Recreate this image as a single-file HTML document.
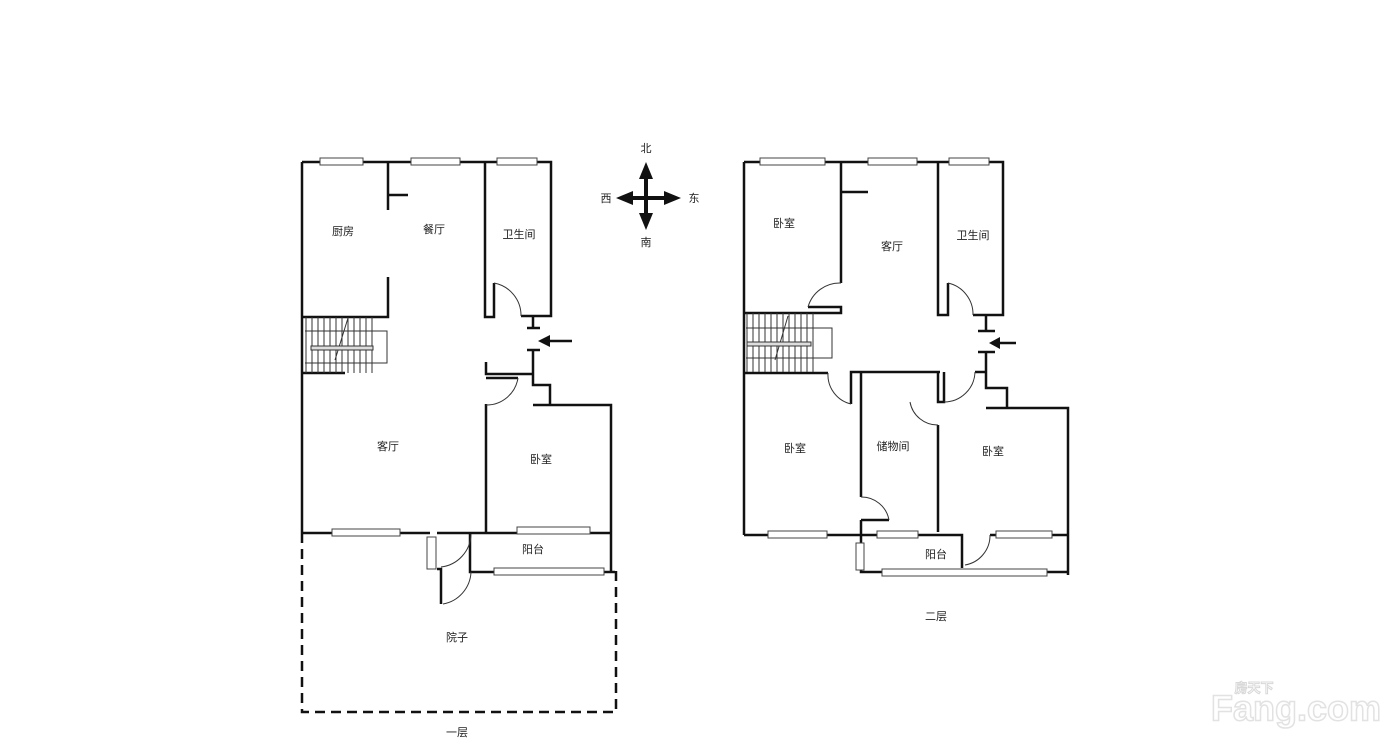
<!DOCTYPE html>
<html><head><meta charset="utf-8"><style>
html,body{margin:0;padding:0;background:#fff;}
svg{display:block}
text{font-family:"Liberation Sans","Noto Sans CJK SC",sans-serif;font-size:11px;fill:#222;text-anchor:middle;dominant-baseline:middle}
.w{stroke:#111;stroke-width:2.5;fill:none}
.t{stroke:#333;stroke-width:1;fill:none}
.win{fill:#fff;stroke:#444;stroke-width:1}
</style></head><body>
<svg width="1400" height="750" viewBox="0 0 1400 750">
<!-- ================= LEFT PLAN ================= -->
<g class="w">
<path d="M302,162 H551 V316 H521"/>
<path d="M302,162 V533"/>
<path d="M388,162 V210 M388,195 H408 M388,277 V317 H302"/>
<path d="M485,162 V317 H494 V283"/>
<path d="M302,373 H345"/>
<path d="M533,316 V328 M527,328 H540 M527,350 H540 M533,350 V385 H550 V405 M533,405 H611 V572"/>
<path d="M486,362 V374 H533 M486,378 H518"/>
<path d="M486,404 V532"/>
<path d="M302,533 H430 M437,533 H611"/>
<path d="M437,569 H441 V604 M470,533 V572 H615"/>
</g>
<g class="t">
<path d="M494,283 A33,33 0 0 1 521,316"/>
<path d="M518,378 A32,32 0 0 1 486,405"/>
<path d="M441,567 A34,34 0 0 0 471,534"/>
<path d="M443,604 A34,34 0 0 0 471,572"/>
</g>
<line x1="572" y1="341" x2="548" y2="341" stroke="#111" stroke-width="2.5"/>
<polygon points="538,341 550,335 550,347" fill="#111"/>
<!-- stairs left -->
<g class="t">
<path d="M306,317 V373 M312,317 V373 M318,317 V373 M324,317 V373 M330,317 V373 M336,317 V373 M342,317 V373 M348,317 V373 M354,317 V373 M360,317 V373 M366,317 V373 M372,317 V373"/>
<path d="M305,331 H387 V363 H305"/>
<path d="M335,360 L348,318"/>
</g>
<rect x="311" y="346" width="62" height="4" fill="#ddd" stroke="#333" stroke-width="1"/>
<!-- windows left -->
<rect class="win" x="320" y="158" width="43" height="7"/>
<rect class="win" x="411" y="158" width="49" height="7"/>
<rect class="win" x="497" y="158" width="40" height="7"/>
<rect class="win" x="332" y="529" width="68" height="7"/>
<rect class="win" x="517" y="527" width="73" height="7"/>
<rect class="win" x="494" y="568" width="110" height="7"/>
<rect class="win" x="427" y="537" width="9" height="32"/>
<!-- courtyard dashed -->
<path d="M302,533 V712 H616 V570" stroke="#111" stroke-width="2.5" fill="none" stroke-dasharray="10,6"/>
<text x="343" y="232">厨房</text>
<text x="434" y="230">餐厅</text>
<text x="519" y="235">卫生间</text>
<text x="388" y="447">客厅</text>
<text x="541" y="460">卧室</text>
<text x="533" y="550">阳台</text>
<text x="457" y="638">院子</text>
<text x="457" y="733">一层</text>
<!-- ================= COMPASS ================= -->
<g stroke="#111" stroke-width="4">
<line x1="646" y1="176" x2="646" y2="216"/>
<line x1="630" y1="198" x2="667" y2="198"/>
</g>
<g fill="#111">
<polygon points="646,162 639,179 653,179"/>
<polygon points="646,230 639,213 653,213"/>
<polygon points="616,198 633,191 633,205"/>
<polygon points="681,198 664,191 664,205"/>
</g>
<text x="646" y="149">北</text>
<text x="606" y="199">西</text>
<text x="694" y="199">东</text>
<text x="646" y="243">南</text>
<!-- ================= RIGHT PLAN ================= -->
<g class="w">
<path d="M744,162 H1003 V315 H973"/>
<path d="M744,162 V535"/>
<path d="M841,162 V283 M841,192 H868 M808,307 H841 V313 H744"/>
<path d="M938,162 V315 H948 V283"/>
<path d="M744,373 H828"/>
<path d="M986,315 V331 M978,331 H995 M978,352 H995 M986,352 V388 H1007 V408 M986,408 H1068 V575"/>
<path d="M851,404 V372 H940 M861,372 V497 M938,372 V402 H944 V372"/>
<path d="M975,372 H986"/>
<path d="M938,425 V532 M861,520 H889 M861,520 V572 H1068"/>
<path d="M744,535 H962 V568 M990,535 H1068"/>
</g>
<g class="t">
<path d="M841,283 A33,33 0 0 0 808,307"/>
<path d="M948,283 A32,32 0 0 1 973,315"/>
<path d="M828,373 A30,30 0 0 0 851,404"/>
<path d="M944,402 A31,31 0 0 0 975,372"/>
<path d="M910,402 A28,28 0 0 0 938,425"/>
<path d="M861,497 A28,28 0 0 1 889,520"/>
<path d="M965,565 A30,30 0 0 0 990,535"/>
</g>
<line x1="1016" y1="343" x2="998" y2="343" stroke="#111" stroke-width="2.5"/>
<polygon points="989,343 1000,337 1000,349" fill="#111"/>
<!-- stairs right -->
<g class="t">
<path d="M747,313 V372 M753,313 V372 M759,313 V372 M765,313 V372 M771,313 V372 M777,313 V372 M783,313 V372 M789,313 V372 M795,313 V372 M801,313 V372 M807,313 V372 M813,313 V372"/>
<path d="M746,328 H832 V358 H746"/>
<path d="M775,360 L788,316"/>
</g>
<rect x="747" y="342" width="64" height="4" fill="#ddd" stroke="#333" stroke-width="1"/>
<!-- windows right -->
<rect class="win" x="760" y="158" width="65" height="7"/>
<rect class="win" x="868" y="158" width="49" height="7"/>
<rect class="win" x="949" y="158" width="40" height="7"/>
<rect class="win" x="768" y="531" width="59" height="7"/>
<rect class="win" x="877" y="531" width="41" height="7"/>
<rect class="win" x="996" y="531" width="56" height="7"/>
<rect class="win" x="882" y="569" width="165" height="7"/>
<rect class="win" x="856" y="543" width="8" height="27"/>
<text x="784" y="224">卧室</text>
<text x="892" y="247">客厅</text>
<text x="973" y="236">卫生间</text>
<text x="795" y="449">卧室</text>
<text x="893" y="447">储物间</text>
<text x="993" y="452">卧室</text>
<text x="936" y="555">阳台</text>
<text x="936" y="617">二层</text>
<!-- watermark -->
<text x="1296" y="711" style="font-size:36px;font-weight:bold;fill:#fff;stroke:#e2e2e2;stroke-width:1.5">Fang.com</text>
<text x="1254" y="689" style="font-size:13px;font-weight:bold;fill:#fff;stroke:#d8d8d8;stroke-width:1">房天下</text>
</svg>
</body></html>
